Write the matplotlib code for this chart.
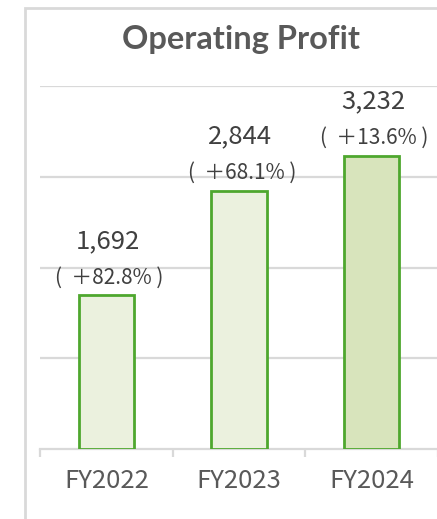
import numpy as np
import matplotlib.pyplot as plt
from matplotlib.patches import Rectangle

years = ["FY2022", "FY2023", "FY2024"]
profit = [1692, 2844, 3232]
growth = ["(  ＋82.8% )", "(  ＋68.1% )", "(  ＋13.6% )"]
fills = ["#EBF1DE", "#EBF1DE", "#D8E4BC"]

W, H = 437, 519
fig = plt.figure(figsize=(W / 100, H / 100), dpi=100)
fig.patch.set_facecolor("white")
cjk = ["Noto Sans CJK JP", "DejaVu Sans"]

# outer chart frame (right / bottom run off the picture)
fig.patches.append(Rectangle((25 / W, -0.2), 1.2, 1.2 - 8 / H,
                             transform=fig.transFigure, fill=False,
                             edgecolor="#D9D9D9", linewidth=2))

ax = fig.add_axes([40 / W, 1 - 449 / H, 398 / W, (449 - 86) / H])
x = np.arange(len(years))
ax.bar(x, profit, width=0.415, color=fills, edgecolor="#4EA72E", linewidth=2, zorder=3)

ax.set_xlim(-0.5, 2.5)
ax.set_ylim(0, 4000)
ax.set_yticks([1000, 2000, 3000, 4000])
ax.yaxis.grid(True, color="#D9D9D9", linewidth=1.6)
ax.set_axisbelow(True)
ax.tick_params(axis="y", left=False, labelleft=False)
for s in ["left", "right", "top"]:
    ax.spines[s].set_visible(False)
ax.spines["bottom"].set_color("#D9D9D9")
ax.spines["bottom"].set_linewidth(1.6)

# tick marks sit between categories
ax.set_xticks([-0.5, 0.5, 1.5, 2.5], minor=False)
ax.set_xticklabels([])
ax.tick_params(axis="x", length=6, width=1.6, color="#D9D9D9")
ax.set_xticks(x, minor=True)
ax.set_xticklabels(years, minor=True, fontsize=18.5, color="#595959", family=cjk)
ax.tick_params(axis="x", which="minor", length=0, pad=14)

for xi, v, g in zip(x, profit, growth):
    ax.annotate(f"{v:,}", (xi, v), xytext=(1, 39), textcoords="offset points",
                ha="center", va="center", fontsize=18.5, color="#404040", family=cjk)
    ax.annotate(g, (xi, v), xytext=(2, 13), textcoords="offset points",
                ha="center", va="center", fontsize=15, color="#404040", family=cjk)

fig.text(241 / W, 1 - 40 / H, "Operating Profit", ha="center", va="center",
         fontsize=23.5, fontweight="bold", color="#595959", family="Lato")

fig.savefig("out.png", dpi=100, facecolor="white")
